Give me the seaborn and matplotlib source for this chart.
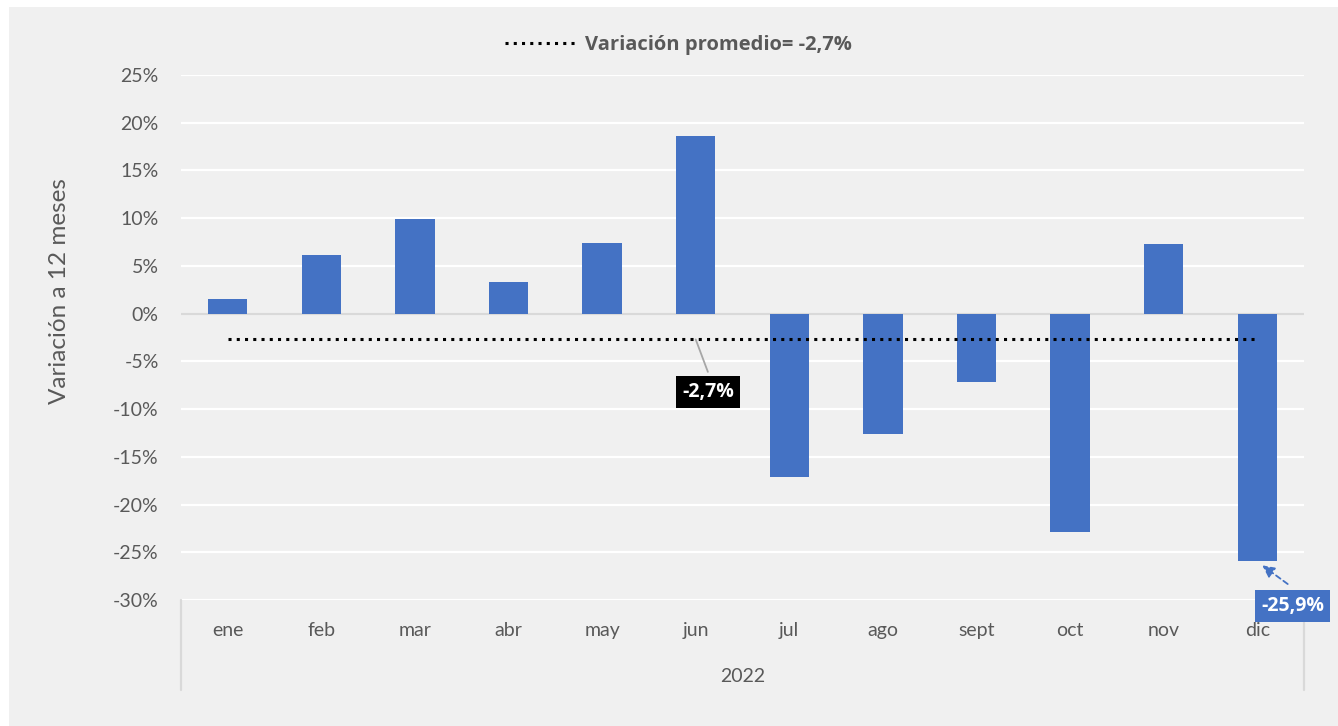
import matplotlib
matplotlib.use("Agg")
import matplotlib.pyplot as plt
import matplotlib.ticker as mtick
from matplotlib.lines import Line2D
from matplotlib.patches import Rectangle
import pandas as pd
import seaborn as sns

# data
months = ["ene", "feb", "mar", "abr", "may", "jun",
          "jul", "ago", "sept", "oct", "nov", "dic"]
variation = [1.5, 6.1, 9.9, 3.3, 7.4, 18.6,
             -17.1, -12.6, -7.2, -22.9, 7.3, -25.9]
average = -2.7
year_label = "2022"
y_ticks = [25, 20, 15, 10, 5, 0, -5, -10, -15, -20, -25, -30]

BLUE = "#4472C4"
BG = "#f0f0f0"
TXT = "#595959"
BOLD = ["Open Sans", "DejaVu Sans"]
DOTS = (0, (1, 1.7))


def main():
    sns.set_theme(style="white")
    plt.rcParams["font.family"] = ["Lato", "DejaVu Sans"]

    df = pd.DataFrame({"mes": months, "variacion": variation})

    fig = plt.figure(figsize=(13.38, 7.26), dpi=100, facecolor="white")
    fig.patches.append(Rectangle((9 / 1338, 0), 1, 1 - 7 / 726,
                                 transform=fig.transFigure,
                                 facecolor=BG, edgecolor="none", zorder=-10))
    ax = fig.add_axes([181 / 1338, 1 - 600 / 726,
                       (1304 - 181) / 1338, (600 - 75) / 726])
    ax.set_facecolor(BG)

    sns.barplot(data=df, x="mes", y="variacion", color=BLUE, width=0.42,
                saturation=1, linewidth=0, ax=ax, zorder=3)

    # average dotted line
    ax.plot([0, len(months) - 1], [average, average], color="black",
            linestyle=DOTS, linewidth=2.2, zorder=4)

    ax.set_ylim(-30, 25)
    ax.set_xlim(-0.5, len(months) - 0.5)
    ax.set_yticks(y_ticks)
    ax.yaxis.set_major_formatter(mtick.FormatStrFormatter("%d%%"))
    ax.grid(axis="y", color="white", linewidth=1.6, zorder=0)
    ax.axhline(0, color="#d9d9d9", linewidth=1.6, zorder=2)
    for s in ax.spines.values():
        s.set_visible(False)
    ax.tick_params(axis="both", length=0, labelsize=14, labelcolor=TXT)
    ax.tick_params(axis="y", pad=16)
    ax.tick_params(axis="x", pad=16)
    ax.set_xlabel("")
    ax.set_ylabel("Variación a 12 meses", fontsize=17.5, color=TXT)
    ax.yaxis.set_label_coords((70 - 181) / 1123, (600 - 291) / 525)

    # category axis frame and year label
    for xx in (0, 1):
        ax.plot([xx, xx], [0, -90 / 525], transform=ax.transAxes,
                color="#d9d9d9", linewidth=1.6, clip_on=False)
    ax.text(0.5, -77 / 525, year_label, transform=ax.transAxes,
            ha="center", va="center", fontsize=14, color=TXT)

    # labels
    ax.plot([5.0, 5.13], [average, -6.1], color="#a6a6a6", linewidth=1.3, zorder=5)
    ax.text(5.13, -8.2, "-2,7%", ha="center", va="center", fontsize=14,
            fontweight="bold", family=BOLD, color="white", zorder=6,
            bbox=dict(boxstyle="square,pad=0.3", facecolor="black", edgecolor="none"))
    ax.annotate("", xy=(11.03, -26.2), xytext=(11.35, -28.5),
                arrowprops=dict(arrowstyle="-|>", color=BLUE, linestyle=(0, (3, 2)),
                                linewidth=1.3, mutation_scale=18),
                annotation_clip=False, zorder=6)
    ax.text(11.38, -30.6, "-25,9%", ha="center", va="center", fontsize=14,
            fontweight="bold", family=BOLD, color="white", zorder=7, clip_on=False,
            bbox=dict(boxstyle="square,pad=0.3", facecolor=BLUE, edgecolor="none"))

    handle = Line2D([], [], color="black", linestyle=DOTS, linewidth=2.2)
    fig.legend([handle], ["Variación promedio= -2,7%"], loc="center",
               bbox_to_anchor=(0.507, 1 - 45 / 726), frameon=False,
               handlelength=3.6, handletextpad=0.4,
               prop={"size": 14.5, "weight": "bold", "family": BOLD},
               labelcolor=TXT)

    fig.savefig("out.png", dpi=100, facecolor="white")


if __name__ == "__main__":
    main()
